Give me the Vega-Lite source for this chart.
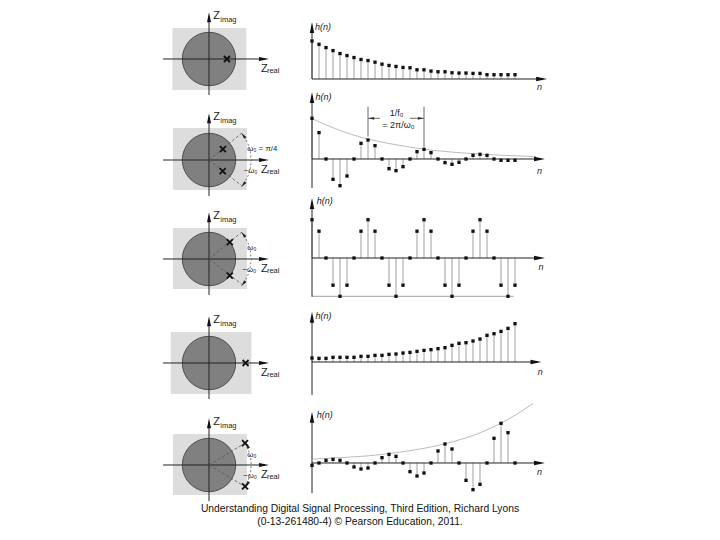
{
  "$schema": "https://vega.github.io/schema/vega-lite/v6.json",
  "padding": 0,
  "bounds": "flush",
  "spacing": 0,
  "columns": 2,
  "config": {"view": {"stroke": null}, "text": {"font": "Liberation Sans"}},
  "title": {"text": ["Understanding Digital Signal Processing, Third Edition, Richard Lyons", "(0-13-261480-4) © Pearson Education, 2011."], "orient": "bottom", "anchor": "middle", "offset": 2, "fontSize": 10.3, "fontWeight": "normal", "font": "Liberation Sans", "color": "#111", "lineHeight": 13},
  "datasets": {
    "stem": [
      {"row":1,"n":0,"h":1.0},{"row":1,"n":1,"h":0.913},{"row":1,"n":2,"h":0.826},{"row":1,"n":3,"h":0.748},{"row":1,"n":4,"h":0.67},{"row":1,"n":5,"h":0.617},{"row":1,"n":6,"h":0.565},{"row":1,"n":7,"h":0.513},{"row":1,"n":8,"h":0.487},{"row":1,"n":9,"h":0.443},{"row":1,"n":10,"h":0.391},{"row":1,"n":11,"h":0.357},{"row":1,"n":12,"h":0.33},{"row":1,"n":13,"h":0.304},{"row":1,"n":14,"h":0.296},{"row":1,"n":15,"h":0.243},{"row":1,"n":16,"h":0.243},{"row":1,"n":17,"h":0.209},{"row":1,"n":18,"h":0.191},{"row":1,"n":19,"h":0.191},{"row":1,"n":20,"h":0.165},{"row":1,"n":21,"h":0.157},{"row":1,"n":22,"h":0.157},{"row":1,"n":23,"h":0.148},{"row":1,"n":24,"h":0.148},{"row":1,"n":25,"h":0.113},{"row":1,"n":26,"h":0.113},{"row":1,"n":27,"h":0.113},{"row":1,"n":28,"h":0.113},{"row":1,"n":29,"h":0.113},
      {"row":2,"n":0,"h":1.0},{"row":2,"n":1,"h":0.648},{"row":2,"n":2,"h":0},{"row":2,"n":3,"h":-0.5},{"row":2,"n":4,"h":-0.656},{"row":2,"n":5,"h":-0.418},{"row":2,"n":6,"h":0},{"row":2,"n":7,"h":0.385},{"row":2,"n":8,"h":0.467},{"row":2,"n":9,"h":0.328},{"row":2,"n":10,"h":0},{"row":2,"n":11,"h":-0.238},{"row":2,"n":12,"h":-0.287},{"row":2,"n":13,"h":-0.189},{"row":2,"n":14,"h":0},{"row":2,"n":15,"h":0.18},{"row":2,"n":16,"h":0.238},{"row":2,"n":17,"h":0.156},{"row":2,"n":18,"h":0},{"row":2,"n":19,"h":-0.09},{"row":2,"n":20,"h":-0.131},{"row":2,"n":21,"h":-0.082},{"row":2,"n":22,"h":0},{"row":2,"n":23,"h":0.09},{"row":2,"n":24,"h":0.115},{"row":2,"n":25,"h":0.09},{"row":2,"n":26,"h":0},{"row":2,"n":27,"h":-0.033},{"row":2,"n":28,"h":-0.033},{"row":2,"n":29,"h":-0.033},
      {"row":3,"n":0,"h":1},{"row":3,"n":1,"h":0.7},{"row":3,"n":2,"h":0},{"row":3,"n":3,"h":-0.71},{"row":3,"n":4,"h":-1},{"row":3,"n":5,"h":-0.71},{"row":3,"n":6,"h":0},{"row":3,"n":7,"h":0.7},{"row":3,"n":8,"h":1},{"row":3,"n":9,"h":0.7},{"row":3,"n":10,"h":0},{"row":3,"n":11,"h":-0.71},{"row":3,"n":12,"h":-1},{"row":3,"n":13,"h":-0.71},{"row":3,"n":14,"h":0},{"row":3,"n":15,"h":0.7},{"row":3,"n":16,"h":1},{"row":3,"n":17,"h":0.7},{"row":3,"n":18,"h":0},{"row":3,"n":19,"h":-0.71},{"row":3,"n":20,"h":-1},{"row":3,"n":21,"h":-0.71},{"row":3,"n":22,"h":0},{"row":3,"n":23,"h":0.7},{"row":3,"n":24,"h":1},{"row":3,"n":25,"h":0.7},{"row":3,"n":26,"h":0},{"row":3,"n":27,"h":-0.71},{"row":3,"n":28,"h":-1},{"row":3,"n":29,"h":-0.71},
      {"row":4,"n":0,"h":0.104},{"row":4,"n":1,"h":0.096},{"row":4,"n":2,"h":0.096},{"row":4,"n":3,"h":0.122},{"row":4,"n":4,"h":0.122},{"row":4,"n":5,"h":0.122},{"row":4,"n":6,"h":0.122},{"row":4,"n":7,"h":0.148},{"row":4,"n":8,"h":0.148},{"row":4,"n":9,"h":0.174},{"row":4,"n":10,"h":0.174},{"row":4,"n":11,"h":0.2},{"row":4,"n":12,"h":0.209},{"row":4,"n":13,"h":0.235},{"row":4,"n":14,"h":0.252},{"row":4,"n":15,"h":0.278},{"row":4,"n":16,"h":0.304},{"row":4,"n":17,"h":0.322},{"row":4,"n":18,"h":0.348},{"row":4,"n":19,"h":0.374},{"row":4,"n":20,"h":0.435},{"row":4,"n":21,"h":0.487},{"row":4,"n":22,"h":0.504},{"row":4,"n":23,"h":0.548},{"row":4,"n":24,"h":0.6},{"row":4,"n":25,"h":0.696},{"row":4,"n":26,"h":0.739},{"row":4,"n":27,"h":0.8},{"row":4,"n":28,"h":0.878},{"row":4,"n":29,"h":1.0},
      {"row":5,"n":0,"h":-0.06},{"row":5,"n":1,"h":0},{"row":5,"n":2,"h":0.067},{"row":5,"n":3,"h":0.092},{"row":5,"n":4,"h":0.067},{"row":5,"n":5,"h":0},{"row":5,"n":6,"h":-0.1},{"row":5,"n":7,"h":-0.151},{"row":5,"n":8,"h":-0.126},{"row":5,"n":9,"h":0},{"row":5,"n":10,"h":0.134},{"row":5,"n":11,"h":0.218},{"row":5,"n":12,"h":0.168},{"row":5,"n":13,"h":0},{"row":5,"n":14,"h":-0.218},{"row":5,"n":15,"h":-0.328},{"row":5,"n":16,"h":-0.252},{"row":5,"n":17,"h":0},{"row":5,"n":18,"h":0.303},{"row":5,"n":19,"h":0.479},{"row":5,"n":20,"h":0.353},{"row":5,"n":21,"h":0},{"row":5,"n":22,"h":-0.437},{"row":5,"n":23,"h":-0.672},{"row":5,"n":24,"h":-0.538},{"row":5,"n":25,"h":0},{"row":5,"n":26,"h":0.622},{"row":5,"n":27,"h":1.0},{"row":5,"n":28,"h":0.765},{"row":5,"n":29,"h":0}
    ],
    "env": [
      {"row":2,"n":0.2,"h":0.975},{"row":2,"n":4,"h":0.7},{"row":2,"n":8,"h":0.49},{"row":2,"n":12,"h":0.35},{"row":2,"n":16,"h":0.24},{"row":2,"n":20,"h":0.17},{"row":2,"n":24,"h":0.12},{"row":2,"n":28,"h":0.085},{"row":2,"n":32,"h":0.06},
      {"row":5,"n":0.2,"h":0.1},{"row":5,"n":4,"h":0.135},{"row":5,"n":8,"h":0.18},{"row":5,"n":12,"h":0.26},{"row":5,"n":16,"h":0.37},{"row":5,"n":20,"h":0.53},{"row":5,"n":24,"h":0.76},{"row":5,"n":28,"h":1.1},{"row":5,"n":31.6,"h":1.5}
    ],
    "zaxes": [{"re": -1.72, "re2": 2.1, "im": 0, "im2": 0}, {"re": 0, "re2": 0, "im": -1.35, "im2": 1.6}],
    "zlabZ": [{"re": 0.16, "im": 1.6, "t": "Z"}, {"re": 1.95, "im": -0.36, "t": "Z"}],
    "zlabSub": [{"re": 0.42, "im": 1.47, "t": "imag"}, {"re": 2.17, "im": -0.46, "t": "real"}]
  },
  "concat": [
    {
      "width": 300, "height": 100,
      "encoding": {
        "x": {"field": "re", "type": "quantitative", "scale": {"domain": [-7.8277, 3.4082], "nice": false, "zero": false}, "axis": null},
        "y": {"field": "im", "type": "quantitative", "scale": {"domain": [-1.5356, 2.2097], "nice": false, "zero": false}, "axis": null}
      },
      "layer": [
        {"data": {"values": [{"re": -1.37, "re2": 1.4, "im": -1.16, "im2": 1.16}]}, "mark": {"type": "rect", "fill": "#dddddd"}, "encoding": {"x2": {"field": "re2"}, "y2": {"field": "im2"}}},
        {"data": {"values": [{"re": 0, "im": 0}]}, "mark": {"type": "point", "shape": "circle", "size": 2852, "filled": true, "fill": "#808080", "stroke": "#505050", "strokeWidth": 1, "opacity": 1}},
        {"data": {"name": "zaxes"}, "mark": {"type": "rule", "color": "#222", "strokeWidth": 1}, "encoding": {"x2": {"field": "re2"}, "y2": {"field": "im2"}}},
        {"data": {"values": [{"re": 2.06, "im": 0}]}, "mark": {"type": "point", "shape": "M1,0L-1,-0.4L-1,0.4Z", "size": 100, "filled": true, "color": "#111", "opacity": 1}},
        {"data": {"values": [{"re": 0, "im": 1.56}]}, "mark": {"type": "point", "shape": "M0,-1L-0.4,1L0.4,1Z", "size": 100, "filled": true, "color": "#111", "opacity": 1}},
        {"data": {"values": [{"re": 0.67, "im": 0}]}, "mark": {"type": "point", "shape": "M-1,-1L1,1M-1,1L1,-1", "size": 36, "filled": false, "stroke": "#111", "strokeWidth": 1.8, "opacity": 1}},
        {"data": {"name": "zlabZ"}, "mark": {"type": "text", "align": "left", "baseline": "middle", "fontSize": 11, "color": "#222"}, "encoding": {"text": {"field": "t"}}},
        {"data": {"name": "zlabSub"}, "mark": {"type": "text", "align": "left", "baseline": "middle", "fontSize": 7.5, "color": "#222"}, "encoding": {"text": {"field": "t"}}}
      ]
    },
    {
      "width": 420, "height": 100,
      "encoding": {
        "x": {"field": "n", "type": "quantitative", "scale": {"domain": [-1.7143, 58.2857], "nice": false, "zero": false}, "axis": null},
        "y": {"field": "h", "type": "quantitative", "scale": {"domain": [-0.5526, 2.0789], "nice": false, "zero": false}, "axis": null}
      },
      "layer": [
        {"data": {"name": "stem"}, "transform": [{"filter": "datum.row == 1"}], "mark": {"type": "rule", "color": "#a0a0a0", "strokeWidth": 1}, "encoding": {"y2": {"datum": 0}}},
        {"data": {"values": [{"n": 0, "n2": 0, "h": 0, "h2": 1.4}, {"n": 0, "n2": 33, "h": 0, "h2": 0}]}, "mark": {"type": "rule", "color": "#222", "strokeWidth": 1}, "encoding": {"x2": {"field": "n2"}, "y2": {"field": "h2"}}},
        {"data": {"values": [{"n": 32.8, "h": 0}]}, "mark": {"type": "point", "shape": "M1,0L-1,-0.4L-1,0.4Z", "size": 121, "filled": true, "color": "#111", "opacity": 1}},
        {"data": {"values": [{"n": 0, "h": 1.355}]}, "mark": {"type": "point", "shape": "M0,-1L-0.4,1L0.4,1Z", "size": 121, "filled": true, "color": "#111", "opacity": 1}},
        {"data": {"name": "stem"}, "transform": [{"filter": "datum.row == 1"}], "mark": {"type": "point", "shape": "square", "size": 11, "filled": true, "color": "#111", "opacity": 1}},
        {"data": {"values": [{"n": 0.43, "h": 1.38, "t": "h(n)"}]}, "mark": {"type": "text", "align": "left", "baseline": "middle", "fontSize": 9, "fontStyle": "italic", "color": "#222"}, "encoding": {"text": {"field": "t"}}},
        {"data": {"values": [{"n": 32.5, "h": -0.22, "t": "n"}]}, "mark": {"type": "text", "align": "center", "baseline": "middle", "fontSize": 9, "fontStyle": "italic", "color": "#222"}, "encoding": {"text": {"field": "t"}}}
      ]
    },
    {
      "width": 300, "height": 100,
      "encoding": {
        "x": {"field": "re", "type": "quantitative", "scale": {"domain": [-7.8277, 3.4082], "nice": false, "zero": false}, "axis": null},
        "y": {"field": "im", "type": "quantitative", "scale": {"domain": [-1.4981, 2.2472], "nice": false, "zero": false}, "axis": null}
      },
      "layer": [
        {"data": {"values": [{"re": -1.35, "re2": 1.42, "im": -1.12, "im2": 1.2}]}, "mark": {"type": "rect", "fill": "#dddddd"}, "encoding": {"x2": {"field": "re2"}, "y2": {"field": "im2"}}},
        {"data": {"values": [{"re": 0, "im": 0}]}, "mark": {"type": "point", "shape": "circle", "size": 2852, "filled": true, "fill": "#808080", "stroke": "#505050", "strokeWidth": 1, "opacity": 1}},
        {"data": {"name": "zaxes"}, "mark": {"type": "rule", "color": "#222", "strokeWidth": 1}, "encoding": {"x2": {"field": "re2"}, "y2": {"field": "im2"}}},
        {"data": {"values": [{"re": 0, "im": 0, "re2": 1.22, "im2": 1.0}, {"re": 0, "im": 0, "re2": 1.22, "im2": -0.96}]}, "mark": {"type": "rule", "color": "#555", "strokeWidth": 0.8, "strokeDash": [3, 2]}, "encoding": {"x2": {"field": "re2"}, "y2": {"field": "im2"}}},
        {"data": {"values": [{"k": 0, "re": 1.228, "im": 0.994}, {"k": 1, "re": 1.368, "im": 0.79}, {"k": 2, "re": 1.485, "im": 0.54}, {"k": 3, "re": 1.556, "im": 0.274}, {"k": 4, "re": 1.58, "im": 0}, {"k": 5, "re": 1.556, "im": -0.274}, {"k": 6, "re": 1.485, "im": -0.54}, {"k": 7, "re": 1.368, "im": -0.79}, {"k": 8, "re": 1.228, "im": -0.994}]}, "mark": {"type": "line", "color": "#555", "strokeWidth": 0.8, "strokeDash": [2, 2]}, "encoding": {"order": {"field": "k", "type": "quantitative"}}},
        {"data": {"values": [{"re": 1.286, "im": 0.917}]}, "mark": {"type": "point", "shape": "M0,-1L-0.45,1L0.45,1Z", "size": 40, "angle": 321, "filled": true, "color": "#222", "opacity": 1}},
        {"data": {"values": [{"re": 1.286, "im": -0.917}]}, "mark": {"type": "point", "shape": "M0,-1L-0.45,1L0.45,1Z", "size": 40, "angle": 219, "filled": true, "color": "#222", "opacity": 1}},
        {"data": {"values": [{"re": 2.06, "im": 0}]}, "mark": {"type": "point", "shape": "M1,0L-1,-0.4L-1,0.4Z", "size": 100, "filled": true, "color": "#111", "opacity": 1}},
        {"data": {"values": [{"re": 0, "im": 1.56}]}, "mark": {"type": "point", "shape": "M0,-1L-0.4,1L0.4,1Z", "size": 100, "filled": true, "color": "#111", "opacity": 1}},
        {"data": {"values": [{"re": 0.52, "im": 0.41}, {"re": 0.51, "im": -0.42}]}, "mark": {"type": "point", "shape": "M-1,-1L1,1M-1,1L1,-1", "size": 36, "filled": false, "stroke": "#111", "strokeWidth": 1.8, "opacity": 1}},
        {"data": {"name": "zlabZ"}, "mark": {"type": "text", "align": "left", "baseline": "middle", "fontSize": 11, "color": "#222"}, "encoding": {"text": {"field": "t"}}},
        {"data": {"name": "zlabSub"}, "mark": {"type": "text", "align": "left", "baseline": "middle", "fontSize": 7.5, "color": "#222"}, "encoding": {"text": {"field": "t"}}},
        {"data": {"values": [{"re": 1.43, "im": 0.4, "t": "ω₀ = π/4"}, {"re": 1.3, "im": -0.42, "t": "−ω₀"}]}, "mark": {"type": "text", "align": "left", "baseline": "middle", "fontSize": 7.8, "color": "#222"}, "encoding": {"text": {"field": "t"}}}
      ]
    },
    {
      "width": 420, "height": 100,
      "encoding": {
        "x": {"field": "n", "type": "quantitative", "scale": {"domain": [-1.7143, 58.2857], "nice": false, "zero": false}, "axis": null},
        "y": {"field": "h", "type": "quantitative", "scale": {"domain": [-1.0074, 1.4496], "nice": false, "zero": false}, "axis": null}
      },
      "layer": [
        {"data": {"name": "env"}, "transform": [{"filter": "datum.row == 2"}], "mark": {"type": "line", "color": "#aaaaaa", "strokeWidth": 0.8, "interpolate": "monotone"}},
        {"data": {"name": "stem"}, "transform": [{"filter": "datum.row == 2"}], "mark": {"type": "rule", "color": "#a0a0a0", "strokeWidth": 1}, "encoding": {"y2": {"datum": 0}}},
        {"data": {"values": [{"n": 0, "n2": 0, "h": -0.71, "h2": 1.55}, {"n": 0, "n2": 32.7, "h": 0, "h2": 0}]}, "mark": {"type": "rule", "color": "#222", "strokeWidth": 1}, "encoding": {"x2": {"field": "n2"}, "y2": {"field": "h2"}}},
        {"data": {"values": [{"n": 8, "n2": 8, "h": 0.55, "h2": 1.285}, {"n": 16, "n2": 16, "h": 0.3, "h2": 1.285}, {"n": 8.05, "n2": 9.7, "h": 1.0, "h2": 1.0}, {"n": 14, "n2": 15.95, "h": 1.0, "h2": 1.0}]}, "mark": {"type": "rule", "color": "#444", "strokeWidth": 0.8}, "encoding": {"x2": {"field": "n2"}, "y2": {"field": "h2"}}},
        {"data": {"values": [{"n": 8.45, "h": 1.0}]}, "mark": {"type": "point", "shape": "M-1,0L1,-0.45L1,0.45Z", "size": 36, "filled": true, "color": "#333", "opacity": 1}},
        {"data": {"values": [{"n": 15.55, "h": 1.0}]}, "mark": {"type": "point", "shape": "M1,0L-1,-0.45L-1,0.45Z", "size": 36, "filled": true, "color": "#333", "opacity": 1}},
        {"data": {"values": [{"n": 32.5, "h": 0}]}, "mark": {"type": "point", "shape": "M1,0L-1,-0.4L-1,0.4Z", "size": 121, "filled": true, "color": "#111", "opacity": 1}},
        {"data": {"values": [{"n": 0, "h": 1.51}]}, "mark": {"type": "point", "shape": "M0,-1L-0.4,1L0.4,1Z", "size": 121, "filled": true, "color": "#111", "opacity": 1}},
        {"data": {"name": "stem"}, "transform": [{"filter": "datum.row == 2"}], "mark": {"type": "point", "shape": "square", "size": 11, "filled": true, "color": "#111", "opacity": 1}},
        {"data": {"values": [{"n": 12.1, "h": 1.12, "t": "1/f₀"}, {"n": 12.33, "h": 0.835, "t": "= 2π/ω₀"}]}, "mark": {"type": "text", "align": "center", "baseline": "middle", "fontSize": 9, "color": "#222"}, "encoding": {"text": {"field": "t"}}},
        {"data": {"values": [{"n": 0.5, "h": 1.53, "t": "h(n)"}]}, "mark": {"type": "text", "align": "left", "baseline": "middle", "fontSize": 9, "fontStyle": "italic", "color": "#222"}, "encoding": {"text": {"field": "t"}}},
        {"data": {"values": [{"n": 32.5, "h": -0.295, "t": "n"}]}, "mark": {"type": "text", "align": "center", "baseline": "middle", "fontSize": 9, "fontStyle": "italic", "color": "#222"}, "encoding": {"text": {"field": "t"}}}
      ]
    },
    {
      "width": 300, "height": 100,
      "encoding": {
        "x": {"field": "re", "type": "quantitative", "scale": {"domain": [-7.8277, 3.4082], "nice": false, "zero": false}, "axis": null},
        "y": {"field": "im", "type": "quantitative", "scale": {"domain": [-1.5356, 2.2097], "nice": false, "zero": false}, "axis": null}
      },
      "layer": [
        {"data": {"values": [{"re": -1.35, "re2": 1.42, "im": -1.12, "im2": 1.16}]}, "mark": {"type": "rect", "fill": "#dddddd"}, "encoding": {"x2": {"field": "re2"}, "y2": {"field": "im2"}}},
        {"data": {"values": [{"re": 0, "im": 0}]}, "mark": {"type": "point", "shape": "circle", "size": 2852, "filled": true, "fill": "#808080", "stroke": "#505050", "strokeWidth": 1, "opacity": 1}},
        {"data": {"name": "zaxes"}, "mark": {"type": "rule", "color": "#222", "strokeWidth": 1}, "encoding": {"x2": {"field": "re2"}, "y2": {"field": "im2"}}},
        {"data": {"values": [{"re": 0, "im": 0, "re2": 1.22, "im2": 1.0}, {"re": 0, "im": 0, "re2": 1.22, "im2": -0.94}]}, "mark": {"type": "rule", "color": "#555", "strokeWidth": 0.8, "strokeDash": [3, 2]}, "encoding": {"x2": {"field": "re2"}, "y2": {"field": "im2"}}},
        {"data": {"values": [{"k": 0, "re": 1.228, "im": 0.994}, {"k": 1, "re": 1.368, "im": 0.79}, {"k": 2, "re": 1.485, "im": 0.54}, {"k": 3, "re": 1.556, "im": 0.274}, {"k": 4, "re": 1.58, "im": 0}, {"k": 5, "re": 1.556, "im": -0.274}, {"k": 6, "re": 1.485, "im": -0.54}, {"k": 7, "re": 1.368, "im": -0.79}, {"k": 8, "re": 1.228, "im": -0.994}]}, "mark": {"type": "line", "color": "#555", "strokeWidth": 0.8, "strokeDash": [2, 2]}, "encoding": {"order": {"field": "k", "type": "quantitative"}}},
        {"data": {"values": [{"re": 1.286, "im": 0.917}]}, "mark": {"type": "point", "shape": "M0,-1L-0.45,1L0.45,1Z", "size": 40, "angle": 321, "filled": true, "color": "#222", "opacity": 1}},
        {"data": {"values": [{"re": 1.286, "im": -0.917}]}, "mark": {"type": "point", "shape": "M0,-1L-0.45,1L0.45,1Z", "size": 40, "angle": 219, "filled": true, "color": "#222", "opacity": 1}},
        {"data": {"values": [{"re": 2.06, "im": 0}]}, "mark": {"type": "point", "shape": "M1,0L-1,-0.4L-1,0.4Z", "size": 100, "filled": true, "color": "#111", "opacity": 1}},
        {"data": {"values": [{"re": 0, "im": 1.56}]}, "mark": {"type": "point", "shape": "M0,-1L-0.4,1L0.4,1Z", "size": 100, "filled": true, "color": "#111", "opacity": 1}},
        {"data": {"values": [{"re": 0.78, "im": 0.63}, {"re": 0.78, "im": -0.62}]}, "mark": {"type": "point", "shape": "M-1,-1L1,1M-1,1L1,-1", "size": 36, "filled": false, "stroke": "#111", "strokeWidth": 1.8, "opacity": 1}},
        {"data": {"name": "zlabZ"}, "mark": {"type": "text", "align": "left", "baseline": "middle", "fontSize": 11, "color": "#222"}, "encoding": {"text": {"field": "t"}}},
        {"data": {"name": "zlabSub"}, "mark": {"type": "text", "align": "left", "baseline": "middle", "fontSize": 7.5, "color": "#222"}, "encoding": {"text": {"field": "t"}}},
        {"data": {"values": [{"re": 1.43, "im": 0.4, "t": "ω₀"}, {"re": 1.25, "im": -0.42, "t": "−ω₀"}]}, "mark": {"type": "text", "align": "left", "baseline": "middle", "fontSize": 7.8, "color": "#222"}, "encoding": {"text": {"field": "t"}}}
      ]
    },
    {
      "width": 420, "height": 100,
      "encoding": {
        "x": {"field": "n", "type": "quantitative", "scale": {"domain": [-1.7143, 58.2857], "nice": false, "zero": false}, "axis": null},
        "y": {"field": "h", "type": "quantitative", "scale": {"domain": [-1.0966, 1.5144], "nice": false, "zero": false}, "axis": null}
      },
      "layer": [
        {"data": {"name": "stem"}, "transform": [{"filter": "datum.row == 3"}], "mark": {"type": "rule", "color": "#a0a0a0", "strokeWidth": 1}, "encoding": {"y2": {"datum": 0}}},
        {"data": {"values": [{"n": 0, "n2": 28.8, "h": -1.0, "h2": -1.0}]}, "mark": {"type": "rule", "color": "#888", "strokeWidth": 0.8}, "encoding": {"x2": {"field": "n2"}, "y2": {"field": "h2"}}},
        {"data": {"values": [{"n": 0, "n2": 0, "h": -1.01, "h2": 1.45}, {"n": 0, "n2": 32.7, "h": 0, "h2": 0}]}, "mark": {"type": "rule", "color": "#222", "strokeWidth": 1}, "encoding": {"x2": {"field": "n2"}, "y2": {"field": "h2"}}},
        {"data": {"values": [{"n": 32.5, "h": 0}]}, "mark": {"type": "point", "shape": "M1,0L-1,-0.4L-1,0.4Z", "size": 121, "filled": true, "color": "#111", "opacity": 1}},
        {"data": {"values": [{"n": 0, "h": 1.42}]}, "mark": {"type": "point", "shape": "M0,-1L-0.4,1L0.4,1Z", "size": 121, "filled": true, "color": "#111", "opacity": 1}},
        {"data": {"name": "stem"}, "transform": [{"filter": "datum.row == 3"}], "mark": {"type": "point", "shape": "square", "size": 11, "filled": true, "color": "#111", "opacity": 1}},
        {"data": {"values": [{"n": 0.67, "h": 1.5, "t": "h(n)"}]}, "mark": {"type": "text", "align": "left", "baseline": "middle", "fontSize": 9, "fontStyle": "italic", "color": "#222"}, "encoding": {"text": {"field": "t"}}},
        {"data": {"values": [{"n": 32.7, "h": -0.23, "t": "n"}]}, "mark": {"type": "text", "align": "center", "baseline": "middle", "fontSize": 9, "fontStyle": "italic", "color": "#222"}, "encoding": {"text": {"field": "t"}}}
      ]
    },
    {
      "width": 300, "height": 100,
      "encoding": {
        "x": {"field": "re", "type": "quantitative", "scale": {"domain": [-7.8277, 3.4082], "nice": false, "zero": false}, "axis": null},
        "y": {"field": "im", "type": "quantitative", "scale": {"domain": [-1.3858, 2.3596], "nice": false, "zero": false}, "axis": null}
      },
      "layer": [
        {"data": {"values": [{"re": -1.43, "re2": 1.59, "im": -1.16, "im2": 1.16}]}, "mark": {"type": "rect", "fill": "#dddddd"}, "encoding": {"x2": {"field": "re2"}, "y2": {"field": "im2"}}},
        {"data": {"values": [{"re": 0, "im": 0}]}, "mark": {"type": "point", "shape": "circle", "size": 2852, "filled": true, "fill": "#808080", "stroke": "#505050", "strokeWidth": 1, "opacity": 1}},
        {"data": {"name": "zaxes"}, "mark": {"type": "rule", "color": "#222", "strokeWidth": 1}, "encoding": {"x2": {"field": "re2"}, "y2": {"field": "im2"}}},
        {"data": {"values": [{"re": 2.06, "im": 0}]}, "mark": {"type": "point", "shape": "M1,0L-1,-0.4L-1,0.4Z", "size": 100, "filled": true, "color": "#111", "opacity": 1}},
        {"data": {"values": [{"re": 0, "im": 1.56}]}, "mark": {"type": "point", "shape": "M0,-1L-0.4,1L0.4,1Z", "size": 100, "filled": true, "color": "#111", "opacity": 1}},
        {"data": {"values": [{"re": 1.37, "im": 0}]}, "mark": {"type": "point", "shape": "M-1,-1L1,1M-1,1L1,-1", "size": 36, "filled": false, "stroke": "#111", "strokeWidth": 1.8, "opacity": 1}},
        {"data": {"name": "zlabZ"}, "mark": {"type": "text", "align": "left", "baseline": "middle", "fontSize": 11, "color": "#222"}, "encoding": {"text": {"field": "t"}}},
        {"data": {"name": "zlabSub"}, "mark": {"type": "text", "align": "left", "baseline": "middle", "fontSize": 7.5, "color": "#222"}, "encoding": {"text": {"field": "t"}}}
      ]
    },
    {
      "width": 420, "height": 100,
      "encoding": {
        "x": {"field": "n", "type": "quantitative", "scale": {"domain": [-1.7143, 58.2857], "nice": false, "zero": false}, "axis": null},
        "y": {"field": "h", "type": "quantitative", "scale": {"domain": [-0.9922, 1.6188], "nice": false, "zero": false}, "axis": null}
      },
      "layer": [
        {"data": {"name": "stem"}, "transform": [{"filter": "datum.row == 4"}], "mark": {"type": "rule", "color": "#a0a0a0", "strokeWidth": 1}, "encoding": {"y2": {"datum": 0}}},
        {"data": {"values": [{"n": 0, "n2": 0, "h": -0.86, "h2": 1.2}, {"n": 0, "n2": 32.2, "h": 0, "h2": 0}]}, "mark": {"type": "rule", "color": "#222", "strokeWidth": 1}, "encoding": {"x2": {"field": "n2"}, "y2": {"field": "h2"}}},
        {"data": {"values": [{"n": 32.0, "h": 0}]}, "mark": {"type": "point", "shape": "M1,0L-1,-0.4L-1,0.4Z", "size": 121, "filled": true, "color": "#111", "opacity": 1}},
        {"data": {"values": [{"n": 0, "h": 1.166}]}, "mark": {"type": "point", "shape": "M0,-1L-0.4,1L0.4,1Z", "size": 121, "filled": true, "color": "#111", "opacity": 1}},
        {"data": {"name": "stem"}, "transform": [{"filter": "datum.row == 4"}], "mark": {"type": "point", "shape": "square", "size": 11, "filled": true, "color": "#111", "opacity": 1}},
        {"data": {"values": [{"n": 0.5, "h": 1.2, "t": "h(n)"}]}, "mark": {"type": "text", "align": "left", "baseline": "middle", "fontSize": 9, "fontStyle": "italic", "color": "#222"}, "encoding": {"text": {"field": "t"}}},
        {"data": {"values": [{"n": 32.6, "h": -0.25, "t": "n"}]}, "mark": {"type": "text", "align": "center", "baseline": "middle", "fontSize": 9, "fontStyle": "italic", "color": "#222"}, "encoding": {"text": {"field": "t"}}}
      ]
    },
    {
      "width": 300, "height": 100,
      "encoding": {
        "x": {"field": "re", "type": "quantitative", "scale": {"domain": [-7.8277, 3.4082], "nice": false, "zero": false}, "axis": null},
        "y": {"field": "im", "type": "quantitative", "scale": {"domain": [-1.3109, 2.4345], "nice": false, "zero": false}, "axis": null}
      },
      "layer": [
        {"data": {"values": [{"re": -1.35, "re2": 1.42, "im": -1.12, "im2": 1.16}]}, "mark": {"type": "rect", "fill": "#dddddd"}, "encoding": {"x2": {"field": "re2"}, "y2": {"field": "im2"}}},
        {"data": {"values": [{"re": 0, "im": 0}]}, "mark": {"type": "point", "shape": "circle", "size": 2852, "filled": true, "fill": "#808080", "stroke": "#505050", "strokeWidth": 1, "opacity": 1}},
        {"data": {"name": "zaxes"}, "mark": {"type": "rule", "color": "#222", "strokeWidth": 1}, "encoding": {"x2": {"field": "re2"}, "y2": {"field": "im2"}}},
        {"data": {"values": [{"re": 0, "im": 0, "re2": 1.3, "im2": 0.79}, {"re": 0, "im": 0, "re2": 1.3, "im2": -0.78}]}, "mark": {"type": "rule", "color": "#555", "strokeWidth": 0.8, "strokeDash": [3, 2]}, "encoding": {"x2": {"field": "re2"}, "y2": {"field": "im2"}}},
        {"data": {"values": [{"k": 0, "re": 1.354, "im": 0.814}, {"k": 1, "re": 1.485, "im": 0.54}, {"k": 2, "re": 1.556, "im": 0.274}, {"k": 3, "re": 1.58, "im": 0}, {"k": 4, "re": 1.556, "im": -0.274}, {"k": 5, "re": 1.485, "im": -0.54}, {"k": 6, "re": 1.354, "im": -0.814}]}, "mark": {"type": "line", "color": "#555", "strokeWidth": 0.8, "strokeDash": [2, 2]}, "encoding": {"order": {"field": "k", "type": "quantitative"}}},
        {"data": {"values": [{"re": 1.43, "im": 0.73}]}, "mark": {"type": "point", "shape": "M0,-1L-0.45,1L0.45,1Z", "size": 40, "angle": 329, "filled": true, "color": "#222", "opacity": 1}},
        {"data": {"values": [{"re": 1.43, "im": -0.73}]}, "mark": {"type": "point", "shape": "M0,-1L-0.45,1L0.45,1Z", "size": 40, "angle": 211, "filled": true, "color": "#222", "opacity": 1}},
        {"data": {"values": [{"re": 2.06, "im": 0}]}, "mark": {"type": "point", "shape": "M1,0L-1,-0.4L-1,0.4Z", "size": 100, "filled": true, "color": "#111", "opacity": 1}},
        {"data": {"values": [{"re": 0, "im": 1.56}]}, "mark": {"type": "point", "shape": "M0,-1L-0.4,1L0.4,1Z", "size": 100, "filled": true, "color": "#111", "opacity": 1}},
        {"data": {"values": [{"re": 1.35, "im": 0.82}, {"re": 1.35, "im": -0.8}]}, "mark": {"type": "point", "shape": "M-1,-1L1,1M-1,1L1,-1", "size": 36, "filled": false, "stroke": "#111", "strokeWidth": 1.8, "opacity": 1}},
        {"data": {"name": "zlabZ"}, "mark": {"type": "text", "align": "left", "baseline": "middle", "fontSize": 11, "color": "#222"}, "encoding": {"text": {"field": "t"}}},
        {"data": {"name": "zlabSub"}, "mark": {"type": "text", "align": "left", "baseline": "middle", "fontSize": 7.5, "color": "#222"}, "encoding": {"text": {"field": "t"}}},
        {"data": {"values": [{"re": 1.43, "im": 0.37, "t": "ω₀"}, {"re": 1.28, "im": -0.42, "t": "−ω₀"}]}, "mark": {"type": "text", "align": "left", "baseline": "middle", "fontSize": 7.8, "color": "#222"}, "encoding": {"text": {"field": "t"}}}
      ]
    },
    {
      "width": 420, "height": 100,
      "encoding": {
        "x": {"field": "n", "type": "quantitative", "scale": {"domain": [-1.7143, 58.2857], "nice": false, "zero": false}, "axis": null},
        "y": {"field": "h", "type": "quantitative", "scale": {"domain": [-0.932, 1.5869], "nice": false, "zero": false}, "axis": null}
      },
      "layer": [
        {"data": {"name": "env"}, "transform": [{"filter": "datum.row == 5"}], "mark": {"type": "line", "color": "#aaaaaa", "strokeWidth": 0.8, "interpolate": "monotone"}},
        {"data": {"name": "stem"}, "transform": [{"filter": "datum.row == 5"}], "mark": {"type": "rule", "color": "#a0a0a0", "strokeWidth": 1}, "encoding": {"y2": {"datum": 0}}},
        {"data": {"values": [{"n": 0, "n2": 0, "h": -0.76, "h2": 1.2}, {"n": 0, "n2": 32.7, "h": 0, "h2": 0}]}, "mark": {"type": "rule", "color": "#222", "strokeWidth": 1}, "encoding": {"x2": {"field": "n2"}, "y2": {"field": "h2"}}},
        {"data": {"values": [{"n": 32.5, "h": 0}]}, "mark": {"type": "point", "shape": "M1,0L-1,-0.4L-1,0.4Z", "size": 121, "filled": true, "color": "#111", "opacity": 1}},
        {"data": {"values": [{"n": 0, "h": 1.15}]}, "mark": {"type": "point", "shape": "M0,-1L-0.4,1L0.4,1Z", "size": 121, "filled": true, "color": "#111", "opacity": 1}},
        {"data": {"name": "stem"}, "transform": [{"filter": "datum.row == 5"}], "mark": {"type": "point", "shape": "square", "size": 11, "filled": true, "color": "#111", "opacity": 1}},
        {"data": {"values": [{"n": 0.67, "h": 1.21, "t": "h(n)"}]}, "mark": {"type": "text", "align": "left", "baseline": "middle", "fontSize": 9, "fontStyle": "italic", "color": "#222"}, "encoding": {"text": {"field": "t"}}},
        {"data": {"values": [{"n": 32.5, "h": -0.22, "t": "n"}]}, "mark": {"type": "text", "align": "center", "baseline": "middle", "fontSize": 9, "fontStyle": "italic", "color": "#222"}, "encoding": {"text": {"field": "t"}}}
      ]
    }
  ]
}
